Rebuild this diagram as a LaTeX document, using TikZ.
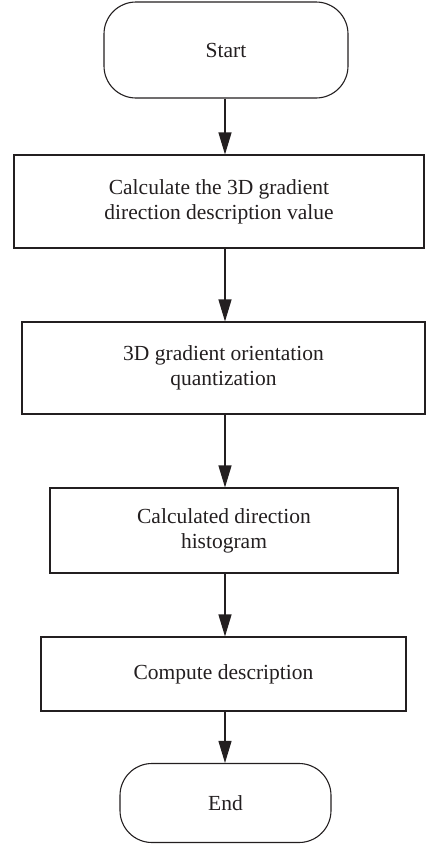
\documentclass[tikz,border=0pt]{standalone}
\usepackage{fontspec}
\setmainfont{Liberation Serif}
\usetikzlibrary{arrows.meta,calc}
\definecolor{ink}{HTML}{231F20}
\tikzset{
  box/.style={draw=ink, line width=1.1pt, rectangle, align=center, text=ink,
    font=\fontsize{21.5}{25}\selectfont, inner sep=0pt},
  term/.style={box, rounded corners=32pt},
  flow/.style={draw=ink, line width=1.1pt, -{Triangle[length=22pt,width=13pt]}}
}
\begin{document}
\begin{tikzpicture}[x=1pt,y=-1pt]
\useasboundingbox (0,0) rectangle (426,844);
\coordinate (axtop) at (225,0);
\node[term, minimum width=244pt, minimum height=96pt] (start) at (226,50) {Start};
\node[box, minimum width=410pt, minimum height=93pt] (b1) at (219,201.5) {Calculate the 3D gradient\\direction description value};
\node[box, minimum width=403pt, minimum height=92pt] (b2) at (223.5,368) {3D gradient orientation\\quantization};
\node[box, minimum width=348pt, minimum height=85pt] (b3) at (224,530.5) {Calculated direction\\histogram};
\node[box, minimum width=365pt, minimum height=74pt] (b4) at (223.5,674) {Compute description};
\node[term, minimum width=211pt, minimum height=79pt] (end) at (225.5,803) {End};
\draw[flow] (start.south -| axtop) -- (b1.north -| axtop);
\draw[flow] (b1.south -| axtop) -- (b2.north -| axtop);
\draw[flow] (b2.south -| axtop) -- (b3.north -| axtop);
\draw[flow] (b3.south -| axtop) -- (b4.north -| axtop);
\draw[flow] (b4.south -| axtop) -- (end.north -| axtop);
\end{tikzpicture}
\end{document}
